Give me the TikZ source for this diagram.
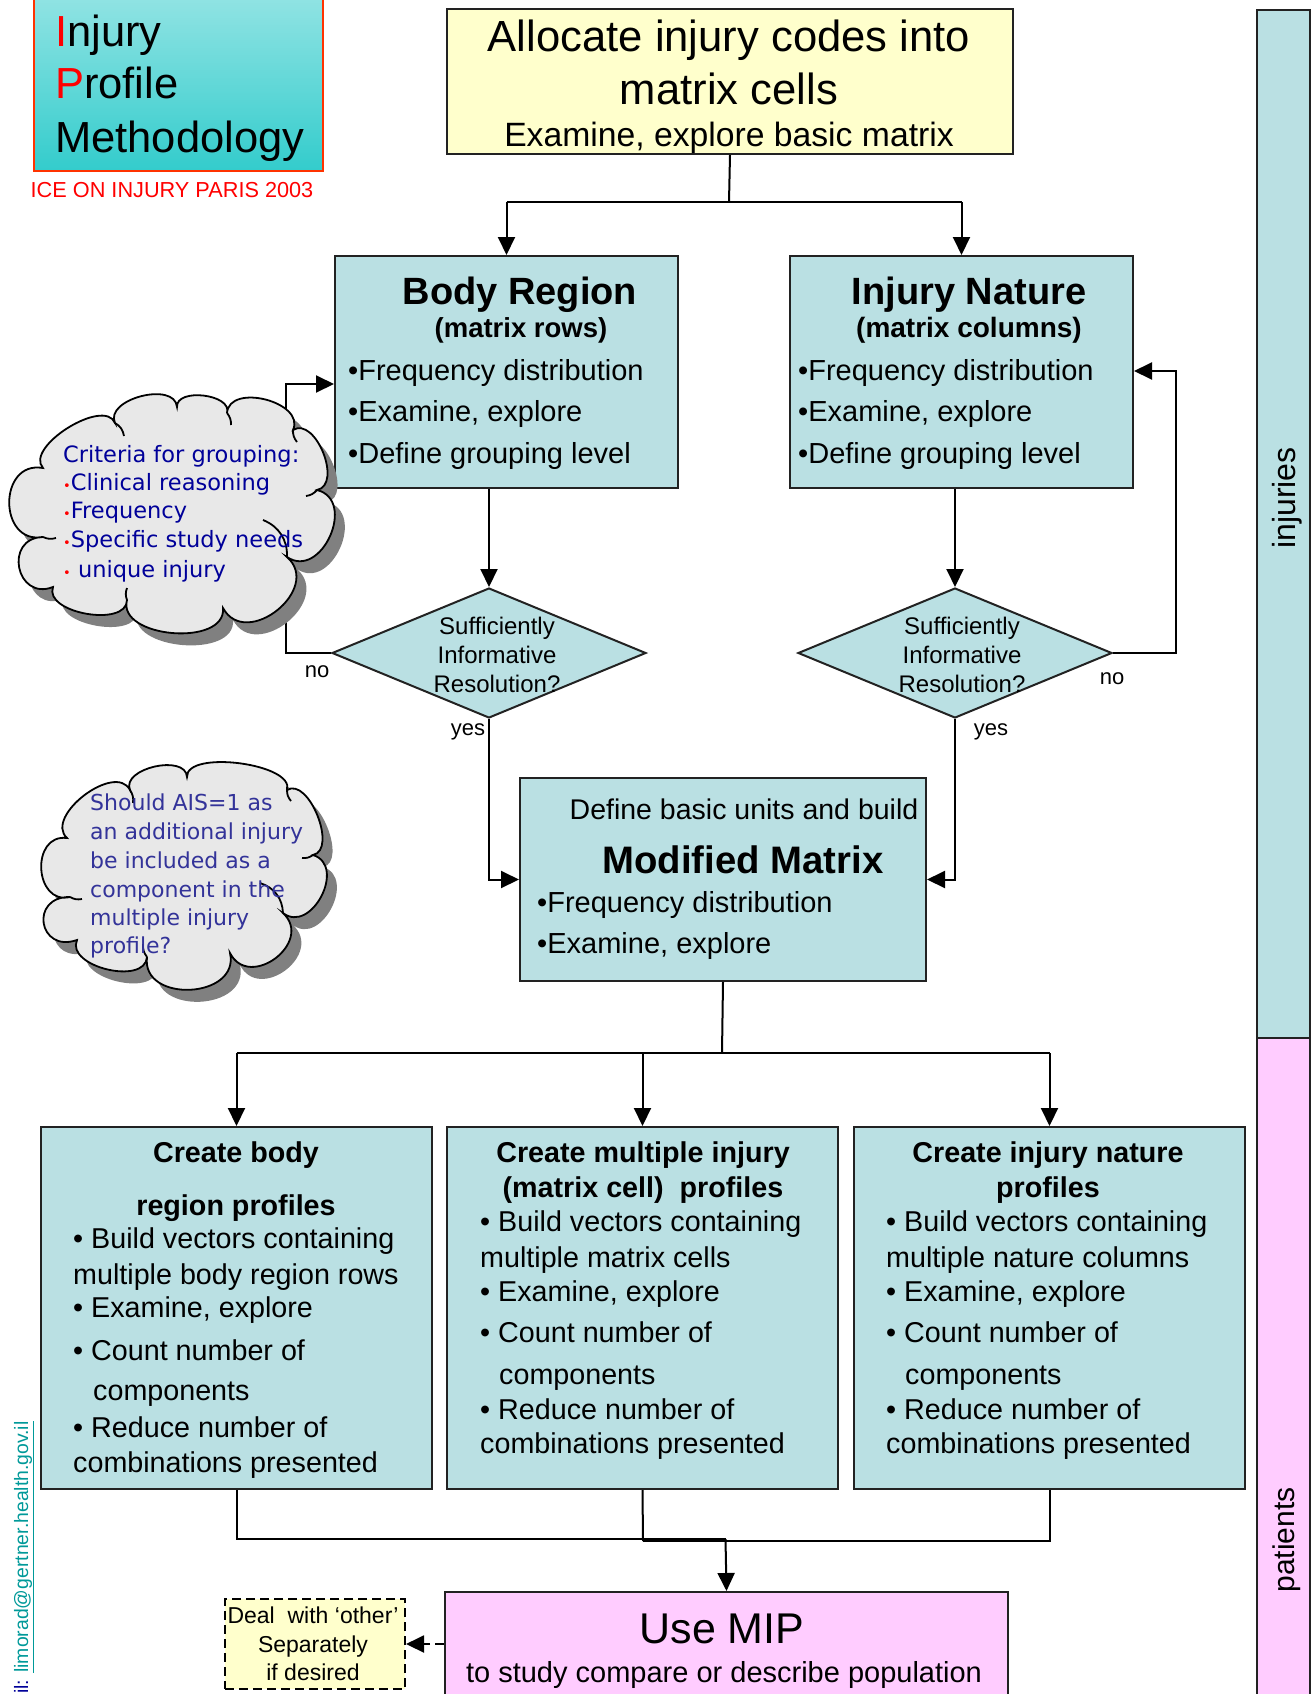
\documentclass[tikz,border=0pt]{standalone}
\usepackage{fontspec}
\setmainfont{Liberation Sans}
\newfontfamily\cloudfont{DejaVu Sans}
\usetikzlibrary{arrows.meta,shapes.geometric}

\definecolor{boxblue}{HTML}{BAE0E3}
\definecolor{notepink}{HTML}{FFCCFF}
\definecolor{noteyellow}{HTML}{FFFFCC}
\definecolor{cloudgray}{HTML}{E8E8E8}
\definecolor{shadowgray}{HTML}{808080}
\definecolor{navytext}{HTML}{000099}
\definecolor{slatetext}{HTML}{333399}
\definecolor{titletop}{HTML}{B4ECEC}
\definecolor{titlebottom}{HTML}{33CCCC}
\definecolor{titleframe}{HTML}{FF3300}
\definecolor{linkteal}{HTML}{009999}
\definecolor{framegray}{HTML}{222222}

\newcommand\fsz[1]{\fontsize{#1}{#1}\selectfont}

% outlines of the two thought clouds (puffs between junction points)
\newcommand\criteriacloud{(43,468) to[pf=0.85] (115,423) to[pf=1.05] (177,407)
  to[pf=1.0] (227,413) to[pf=1.15] (293,430) to[pf=1.05] (317,490)
  to[pf=1.45] (287,557) to[pf=1.5] (223,608) to[pf=1.05] (127,600)
  to[pf=0.95] (53,587) to[pf=2.0] (43,537) to[pf=1.7] (43,468) -- cycle}
\newcommand\aiscloud{(67,838) to[pf=1.03] (130,790) to[pf=1.03] (187,777)
  to[pf=0.7] (287,790) to[pf=0.93] (313,855) to[pf=1.4] (283,913)
  to[pf=1.65] (230,953) to[pf=1.45] (147,957) to[pf=1.03] (77,940)
  to[pf=2.4] (70,897) to[pf=1.6] (67,838) -- cycle}

\begin{document}
\begin{tikzpicture}[x=1pt, y=-1pt,
  box/.style={draw=framegray, line width=2pt, fill=boxblue, inner sep=0pt, anchor=north west},
  lt/.style={inner sep=0pt, anchor=base west, font=\fsz{#1}},
  ct/.style={inner sep=0pt, anchor=base, font=\fsz{#1}},
  cb/.style={inner sep=0pt, anchor=base, font=\fsz{#1}\bfseries},
  conn/.style={line width=2pt, draw=black},
  arr/.style={conn, -{Triangle[length=18pt,width=17pt]}},
  pf/.style={bend left=100, looseness=#1},
  cloudline/.style={line width=1.8pt, draw=black},
  diam/.style={diamond, draw=framegray, line width=2pt, fill=boxblue,
    minimum width=314pt, minimum height=130pt, inner sep=0pt},
  cl/.style={inner sep=0pt, anchor=base west, font=\cloudfont\fsz{#1}},
]
\useasboundingbox (0,0) rectangle (1315,1694);
\clip (0,0) rectangle (1315,1694);

% ---------- banner ----------
\node[draw=titleframe, line width=2pt, top color=titletop, bottom color=titlebottom,
  minimum width=289pt, minimum height=240pt, anchor=south west, inner sep=0pt] (banner) at (33,172) {};
\node[lt=43.5] (ban1) at (55,47) {\textcolor{red}{I}njury};
\node[lt=43.5] (ban2) at (55,99) {\textcolor{red}{P}rofile};
\node[lt=43.5] (ban3) at (55,152) {Methodology};
\node[ct=21.7, text=red] (ice) at (172,197) {ICE ON INJURY PARIS 2003};

% ---------- top box ----------
\node[box, fill=noteyellow, minimum width=566pt, minimum height=145pt] (alloc) at (446,8) {};
\node[ct=43.6] (al1) at (729,52) {Allocate injury codes into};
\node[ct=43.6] (al2) at (729,104) {matrix cells};
\node[ct=33.7] (al3) at (729,146) {Examine, explore basic matrix};

% ---------- body region / injury nature ----------
\node[box, minimum width=343pt, minimum height=232pt] (body) at (334,255) {};
\node[cb=38] (bo1) at (520,304) {Body Region};
\node[cb=27.5] (bo2) at (521,337) {(matrix rows)};
\node[lt=29] (bo3) at (348,380) {•Frequency distribution};
\node[lt=29] (bo4) at (348,421) {•Examine, explore};
\node[lt=29] (bo5) at (348,463) {•Define grouping level};

\node[box, minimum width=343pt, minimum height=232pt] (nature) at (789,255) {};
\node[cb=38] (na1) at (969,304) {Injury Nature};
\node[cb=28] (na2) at (969,337) {(matrix columns)};
\node[lt=29] (na3) at (798,380) {•Frequency distribution};
\node[lt=29] (na4) at (798,421) {•Examine, explore};
\node[lt=29] (na5) at (798,463) {•Define grouping level};

% ---------- decisions ----------
\node[diam] (dl) at (489,653) {};
\node[ct=24] (dl1) at (497,634) {Sufficiently};
\node[ct=24] (dl2) at (497,663) {Informative};
\node[ct=24] (dl3) at (497,692) {Resolution?};
\node[diam] (dr) at (955,653) {};
\node[ct=24] (dr1) at (962,634) {Sufficiently};
\node[ct=24] (dr2) at (962,663) {Informative};
\node[ct=24] (dr3) at (962,692) {Resolution?};

\node[ct=22] (nol) at (317,677) {no};
\node[ct=22] (nor) at (1112,684) {no};
\node[ct=22] (yesl) at (468,735) {yes};
\node[ct=22] (yesr) at (991,735) {yes};

% ---------- modified matrix ----------
\node[box, minimum width=406pt, minimum height=203pt] (mm) at (519,777) {};
\node[ct=28.5] (mm1) at (744,819) {Define basic units and build};
\node[cb=38.3] (mm2) at (743,873) {Modified Matrix};
\node[lt=29] (mm3) at (537,912) {•Frequency distribution};
\node[lt=29] (mm4) at (537,953) {•Examine, explore};

% ---------- profile boxes ----------
\node[box, minimum width=391pt, minimum height=362pt] (pb) at (40,1126) {};
\node[cb=28.7] (pb1) at (236,1162) {Create body};
\node[cb=28.7] (pb2) at (236,1215) {region profiles};
\node[lt=28.7] (pb3) at (73,1248) {• Build vectors containing};
\node[lt=28.7] (pb4) at (73,1284) {multiple body region rows};
\node[lt=28.7] (pb5) at (73,1317) {• Examine, explore};
\node[lt=28.7] (pb6) at (73,1360) {• Count number of};
\node[lt=28.7] (pb7) at (93,1400) {components};
\node[lt=28.7] (pb8) at (73,1437) {• Reduce number of};
\node[lt=28.7] (pb9) at (73,1472) {combinations presented};

\node[box, minimum width=391pt, minimum height=362pt] (pm) at (446,1126) {};
\node[cb=28.7] (pm1) at (643,1162) {Create multiple injury};
\node[cb=28.7] (pm2) at (643,1197) {(matrix cell)\ \ profiles};
\node[lt=28.7] (pm3) at (480,1231) {• Build vectors containing};
\node[lt=28.7] (pm4) at (480,1267) {multiple matrix cells};
\node[lt=28.7] (pm5) at (480,1301) {• Examine, explore};
\node[lt=28.7] (pm6) at (480,1342) {• Count number of};
\node[lt=28.7] (pm7) at (499,1384) {components};
\node[lt=28.7] (pm8) at (480,1419) {• Reduce number of};
\node[lt=28.7] (pm9) at (480,1453) {combinations presented};

\node[box, minimum width=391pt, minimum height=362pt] (pn) at (853,1126) {};
\node[cb=28.7] (pn1) at (1048,1162) {Create injury nature};
\node[cb=28.7] (pn2) at (1048,1197) {profiles};
\node[lt=28.7] (pn3) at (886,1231) {• Build vectors containing};
\node[lt=28.7] (pn4) at (886,1267) {multiple nature columns};
\node[lt=28.7] (pn5) at (886,1301) {• Examine, explore};
\node[lt=28.7] (pn6) at (886,1342) {• Count number of};
\node[lt=28.7] (pn7) at (905,1384) {components};
\node[lt=28.7] (pn8) at (886,1419) {• Reduce number of};
\node[lt=28.7] (pn9) at (886,1453) {combinations presented};

% ---------- use MIP and side note ----------
\node[box, fill=notepink, minimum width=563pt, minimum height=130pt] (mip) at (444,1591) {};
\node[ct=43] (mip1) at (722,1643) {Use MIP};
\node[ct=29] (mip2) at (724,1682) {to study compare or describe population};

\node[draw=black, line width=2pt, dash pattern=on 9pt off 5pt, fill=noteyellow,
  minimum width=180pt, minimum height=90pt, inner sep=0pt, anchor=north west] (deal) at (224,1598) {};
\node[ct=23] (de1) at (313,1623) {Deal\ \ with ‘other’};
\node[ct=23] (de2) at (313,1652) {Separately};
\node[ct=23] (de3) at (313,1680) {if desired};

% ---------- side scale ----------
\node[box, minimum width=53pt, minimum height=1028pt] (sideinj) at (1256,9) {};
\node[box, fill=notepink, minimum width=53pt, minimum height=700pt] (sidepat) at (1256,1037) {};
\node[inner sep=0pt, rotate=90, font=\fsz{32}] (inj) at (1287,498) {injuries};
\node[inner sep=0pt, rotate=90, font=\fsz{30}] (pat) at (1287,1540) {patients};

% ---------- contact line ----------
\node[inner sep=0pt, anchor=base west, rotate=90, font=\fsz{19.4}] (mail) at (28,1694)
  {\textcolor{navytext}{il: }\textcolor{linkteal}{\underline{limorad@gertner.health.gov.il}}};

% ---------- connectors (drawn before the clouds, which lie on top) ----------
\coordinate (topj) at (729,202);
\draw[conn] (alloc.south) -- (topj);
\draw[conn] (topj -| body.north) -- (topj -| nature.north);
\draw[arr] (topj -| body.north) -- (body.north);
\draw[arr] (topj -| nature.north) -- (nature.north);

\draw[arr] (body.south -| dl.north) -- (dl.north);
\draw[arr] (nature.south -| dr.north) -- (dr.north);

\coordinate (lbk) at (286,384);
\draw[arr] (dl.west) -| (lbk) -- (lbk -| body.west);
\coordinate (rbk) at (1176,371);
\draw[arr] (dr.east) -| (rbk) -- (rbk -| nature.east);

\draw[arr] (dl.south) |- (mm.west);
\draw[arr] (dr.south) |- (mm.east);

\coordinate (mj) at (722,1053);
\draw[conn] (mm.south) -- (mj);
\draw[conn] (mj -| pb.north) -- (mj -| pn.north);
\draw[arr] (mj -| pb.north) -- (pb.north);
\draw[arr] (mj -| pm.north) -- (pm.north);
\draw[arr] (mj -| pn.north) -- (pn.north);

\coordinate (bj) at (725.5,1539);
\coordinate (bj2) at (643,1541);
\draw[conn] (pb.south) |- (bj);
\draw[conn] (pn.south) |- (bj2);
\draw[conn] (pm.south) -- (bj2);
\draw[arr] (bj) -- (mip.north);

\draw[arr, dash pattern=on 9pt off 5pt] (deal.east -| mip.west) -- (deal.east);

% ---------- clouds ----------
\fill[shadowgray, shift={(10,12)}] \criteriacloud;
\filldraw[fill=cloudgray, cloudline] \criteriacloud;
\draw[cloudline] (115,423) to[bend left=25] (124,436);
\draw[cloudline] (227,413) to[bend left=20] (231,425);
\draw[cloudline] (293,430) to[bend right=20] (297,442);
\draw[cloudline] (317,490) to[bend left=20] (306,496);
\draw[cloudline] (263,520) to[bend left=35] (287,557);
\draw[cloudline] (127,600) to[bend left=20] (127,588);
\draw[cloudline] (43,537) to[bend right=20] (56,538);
\node[cl=22.5, text=navytext] (cr1) at (63,462) {Criteria for grouping:};
\node[cl=22.5, text=navytext] (cr2) at (63,490) {\textcolor{red}{\fsz{13}•}Clinical reasoning};
\node[cl=22.5, text=navytext] (cr3) at (63,518) {\textcolor{red}{\fsz{13}•}Frequency};
\node[cl=22.5, text=navytext] (cr4) at (63,547) {\textcolor{red}{\fsz{13}•}Specific study needs};
\node[cl=22.5, text=navytext] (cr5) at (63,577) {\textcolor{red}{\fsz{13}•} unique injury};

\fill[shadowgray, shift={(10,12)}] \aiscloud;
\filldraw[fill=cloudgray, cloudline] \aiscloud;
\draw[cloudline] (130,790) to[bend left=20] (133,803);
\draw[cloudline] (287,790) to[bend right=20] (291,801);
\draw[cloudline] (313,855) to[bend left=20] (302,858);
\draw[cloudline] (260,883) to[bend left=35] (283,913);
\draw[cloudline] (147,957) to[bend left=20] (143,944);
\draw[cloudline] (70,897) to[bend right=20] (82,899);
\node[cl=22, text=slatetext] (ai1) at (90,810) {Should AIS=1 as};
\node[cl=22, text=slatetext] (ai2) at (90,839) {an additional injury};
\node[cl=22, text=slatetext] (ai3) at (90,868) {be included as a};
\node[cl=22, text=slatetext] (ai4) at (90,897) {component in the};
\node[cl=22, text=slatetext] (ai5) at (90,925) {multiple injury};
\node[cl=22, text=slatetext] (ai6) at (90,953) {profile?};
\end{tikzpicture}
\end{document}
